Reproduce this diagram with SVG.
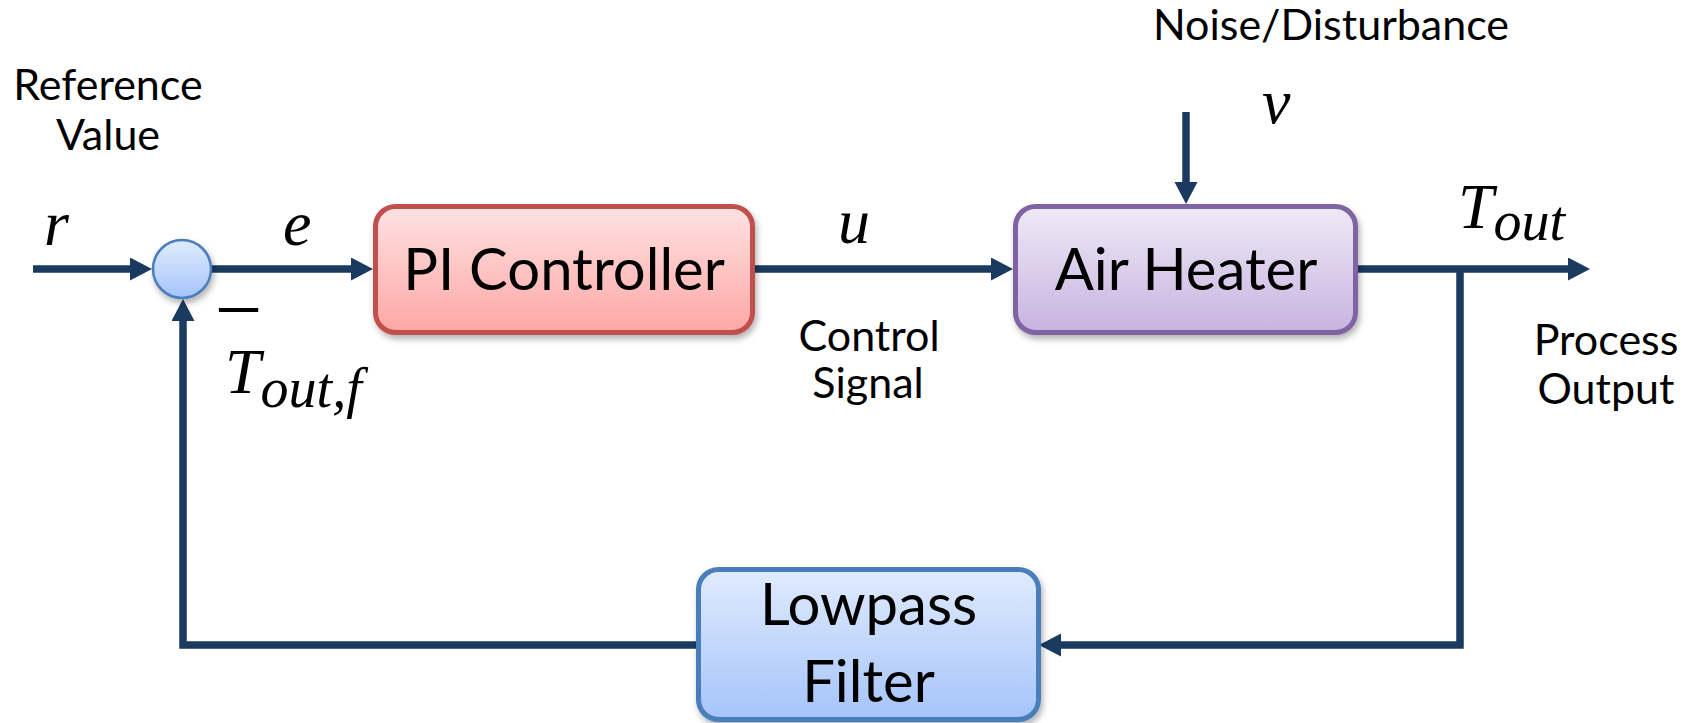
<svg xmlns="http://www.w3.org/2000/svg" width="1693" height="723" viewBox="0 0 1693 723">
  <style>
    .wire { fill: none; stroke: #1b3a60; stroke-width: 7.5; stroke-linejoin: miter; stroke-linecap: butt; }
    .box-label { font-family: Lato, "Open Sans", sans-serif; font-size: 58px; fill: #000; text-anchor: middle; }
    .note { font-family: Lato, "Open Sans", sans-serif; font-size: 43px; fill: #000; text-anchor: middle; }
    .math { font-family: "Liberation Serif", "DejaVu Serif", serif; font-style: italic; font-size: 64px; fill: #000; }
    .sub { font-size: 56px; }
    .sign { font-family: "Liberation Sans", Arial, sans-serif; font-size: 30px; fill: #000; text-anchor: middle; }
  </style>
  <defs>
    <linearGradient id="gRed" x1="0" y1="0" x2="0" y2="1">
      <stop offset="0" stop-color="#fee2e2"/>
      <stop offset="1" stop-color="#fda7a5"/>
    </linearGradient>
    <linearGradient id="gPurple" x1="0" y1="0" x2="0" y2="1">
      <stop offset="0" stop-color="#efe9f6"/>
      <stop offset="1" stop-color="#c7b3e0"/>
    </linearGradient>
    <linearGradient id="gBlue" x1="0" y1="0" x2="0" y2="1">
      <stop offset="0" stop-color="#e0ebfd"/>
      <stop offset="1" stop-color="#a5c4fa"/>
    </linearGradient>
    <filter id="shadow" x="-10%" y="-10%" width="130%" height="140%">
      <feDropShadow dx="2" dy="4" stdDeviation="3" flood-color="#000" flood-opacity="0.3"/>
    </filter>
    <marker id="arrow" markerUnits="userSpaceOnUse" markerWidth="24" markerHeight="24" refX="2" refY="11.5" orient="auto">
      <path d="M0,0 L22,11.5 L0,23 Z" fill="#1b3a60"/>
    </marker>
  </defs>

  <!-- connectors -->
  <g id="connectors">
    <path class="wire" d="M33,269 H132" marker-end="url(#arrow)"/>
    <path class="wire" d="M212,269 H353" marker-end="url(#arrow)"/>
    <path class="wire" d="M755,269 H993" marker-end="url(#arrow)"/>
    <path class="wire" d="M1186,112 V184" marker-end="url(#arrow)"/>
    <path class="wire" d="M1358,269 H1570" marker-end="url(#arrow)"/>
    <path class="wire" d="M1460,269 V645 H1059" marker-end="url(#arrow)"/>
    <path class="wire" d="M696,645 H183 V319" marker-end="url(#arrow)"/>
  </g>

  <!-- summing junction -->
  <g id="sum">
    <circle cx="182" cy="269" r="29" fill="url(#gBlue)" stroke="#4a7ebb" stroke-width="2.5" filter="url(#shadow)"/>
  </g>

  <g id="pi-controller">
    <rect x="375.5" y="206.5" width="377" height="126" rx="20" fill="url(#gRed)" stroke="#c0504d" stroke-width="5" filter="url(#shadow)"/>
    <text class="box-label" x="564" y="290">PI Controller</text>
  </g>

  <g id="air-heater">
    <rect x="1015.5" y="206.5" width="340" height="126" rx="20" fill="url(#gPurple)" stroke="#8064a2" stroke-width="5" filter="url(#shadow)"/>
    <text class="box-label" x="1186" y="290">Air Heater</text>
  </g>

  <g id="lowpass-filter">
    <rect x="698.5" y="569.5" width="340" height="150" rx="20" fill="url(#gBlue)" stroke="#4a7ebb" stroke-width="5" filter="url(#shadow)"/>
    <text class="box-label" x="868.5" y="625">Lowpass</text>
    <text class="box-label" x="868.5" y="702">Filter</text>
  </g>

  <!-- annotations -->
  <g id="labels">
    <text class="note" x="108" y="100">Reference</text>
    <text class="note" x="108" y="150">Value</text>
    <text class="note" x="1331" y="40">Noise/Disturbance</text>
    <text class="note" x="869" y="351">Control</text>
    <text class="note" x="868" y="398">Signal</text>
    <text class="note" x="1606" y="355">Process</text>
    <text class="note" x="1606" y="404">Output</text>

    <text class="math" x="44" y="245">r</text>
    <text class="math" x="283" y="245">e</text>
    <text class="math" x="838" y="243">u</text>
    <text class="math" x="1262" y="123">v</text>
    <text class="math" x="1458" y="228">T<tspan class="sub" dy="12">out</tspan></text>
    <!-- negative sign on the feedback input, stretched to a long bar -->
    <text class="sign" transform="translate(238.5,312) scale(2.7,1.9)" x="0" y="9.2">−</text>
    <text class="math" x="225" y="393">T<tspan class="sub" dy="14">out,f</tspan></text>
  </g>
</svg>
